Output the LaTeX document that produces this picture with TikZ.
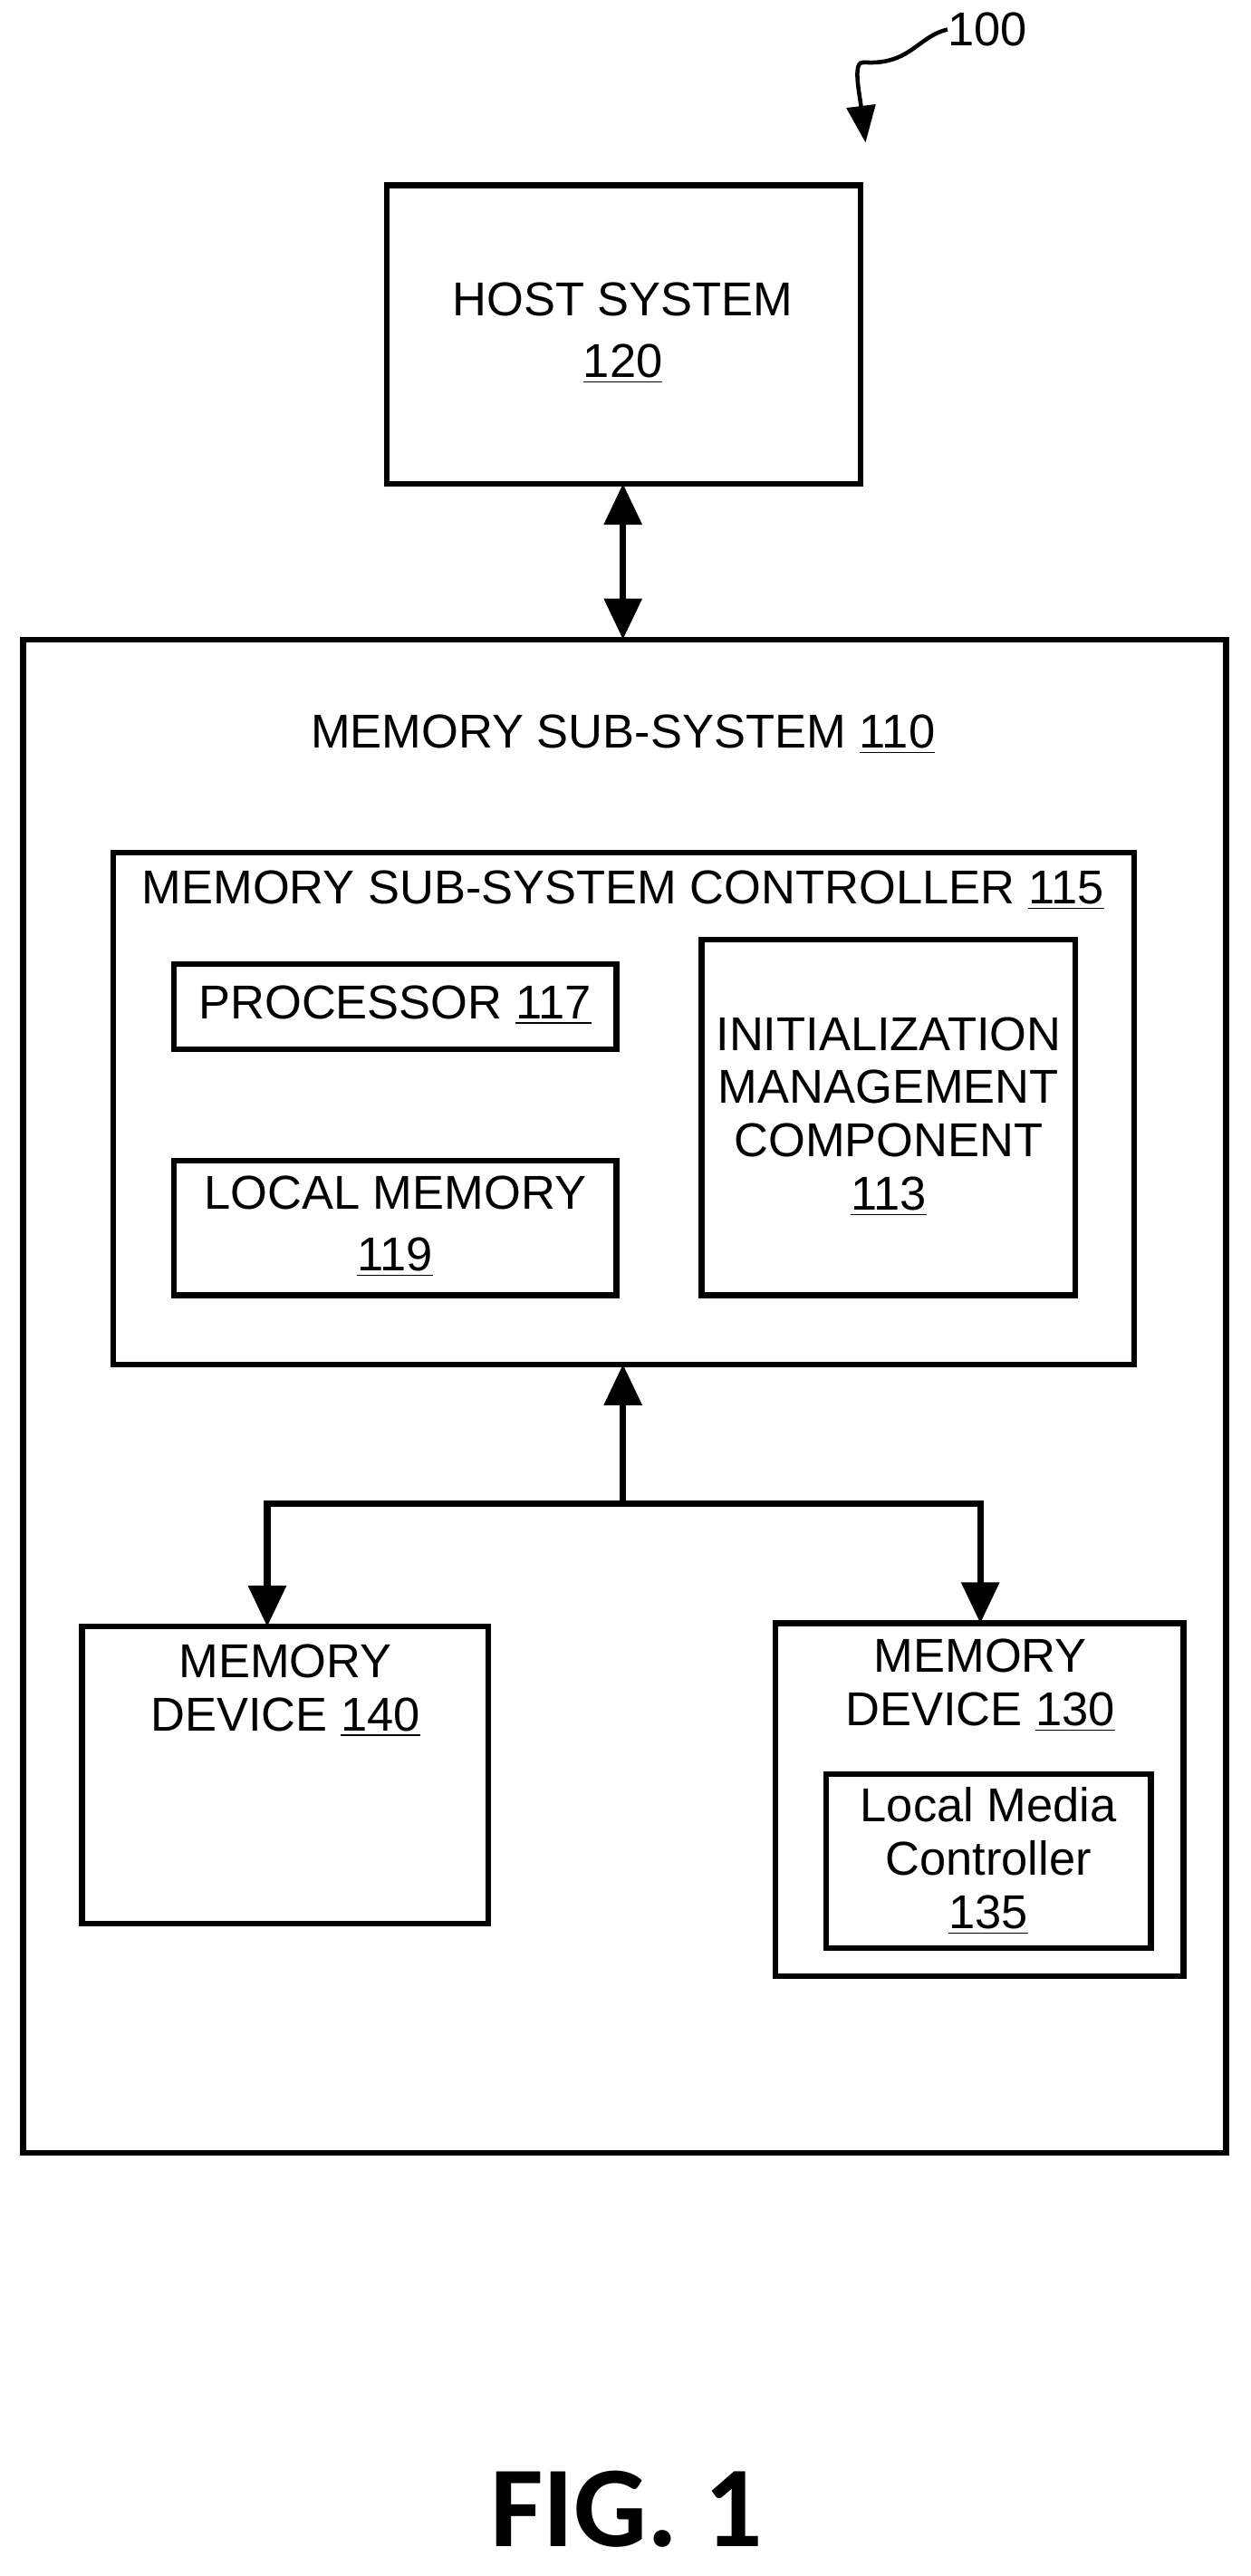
\documentclass[tikz,border=0pt]{standalone}
\usepackage{fontspec}
\setmainfont{Liberation Sans}
\newfontfamily\figfont{Carlito}
\usetikzlibrary{arrows.meta}
\tikzset{
  blk/.style={draw,line width=0.07cm},
  lbl/.style={font=\fontsize{16.5}{19.5}\selectfont,align=center,inner sep=0pt},
  bus/.style={line width=0.08cm,-{Triangle[length=0.5cm,width=0.45cm]}},
}
\begin{document}
\begin{tikzpicture}[x=0.02cm,y=-0.02cm]
\useasboundingbox (0,0) rectangle (763,1571);
% host
\draw[blk] (236,113) rectangle (525,295);
\node[lbl] (host) at (380,203) {HOST SYSTEM\\[2pt]\underline{120}};
\coordinate (hostb) at (380,295);
% sub-system
\draw[blk] (14,390) rectangle (748,1313);
\coordinate (subt) at (380,390);
\node[lbl] (sub) at (380,448) {MEMORY SUB-SYSTEM \underline{110}};
% controller
\draw[blk] (69,520) rectangle (692,832);
\node[lbl] (ctrl) at (380,543) {MEMORY SUB-SYSTEM CONTROLLER \underline{115}};
\coordinate (ctrlb) at (380,832);
\draw[blk] (106,588) rectangle (376,640);
\node[lbl] (proc) at (241,613) {PROCESSOR \underline{117}};
\draw[blk] (106,708) rectangle (376,790);
\node[lbl] (lmem) at (241,748) {LOCAL MEMORY\\[2pt]\underline{119}};
\draw[blk] (428,573) rectangle (656,790);
\node[lbl] (init) at (542,681) {INITIALIZATION\\[-1pt]MANAGEMENT\\[-1pt]COMPONENT\\[-1pt]\underline{113}};
% devices
\draw[blk] (50,992) rectangle (298,1173);
\node[lbl] (dev140) at (174,1031) {MEMORY\\[-1pt]DEVICE \underline{140}};
\draw[blk] (473,990) rectangle (722,1205);
\node[lbl] (dev130) at (598,1028) {MEMORY\\[-1pt]DEVICE \underline{130}};
\draw[blk] (504,1082) rectangle (702,1188);
\node[lbl] (lmc) at (603,1135) {Local Media\\[-1pt]Controller\\[-1pt]\underline{135}};
\coordinate (d140t) at (163,992);
\coordinate (d130t) at (598,990);
\coordinate (junc) at (380,917);
% buses
\draw[bus,{Triangle[length=0.5cm,width=0.45cm]}-{Triangle[length=0.5cm,width=0.45cm]}] (hostb) -- (subt);
\draw[bus] (junc) -- (ctrlb);
\draw[bus] (junc) -| (d140t);
\draw[bus] (junc) -| (d130t);
% ref
\node[lbl,anchor=west] (ref) at (578,18) {100};
\coordinate (refbend) at (527,38);
\draw[line width=0.05cm,-{Triangle[length=0.45cm,width=0.35cm]}] (ref.west) .. controls (560,22) and (555,40) .. (refbend) .. controls (520,37) and (524,55) .. (528,87);
\node[font=\figfont\bfseries\fontsize{40}{44}\selectfont] (fig) at (382,1530) {FIG. 1};
\end{tikzpicture}
\end{document}
